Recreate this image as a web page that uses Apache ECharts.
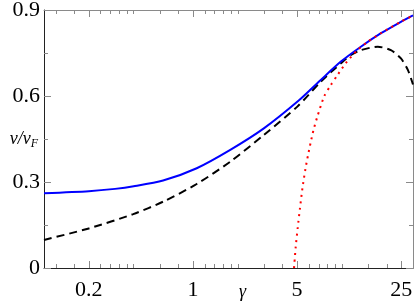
<!DOCTYPE html>
<html>
<head>
<meta charset="utf-8">
<script src="https://cdn.jsdelivr.net/npm/echarts@6/dist/echarts.min.js"></script>
<style>
html,body{margin:0;padding:0;background:#fff;}
#c{width:415px;height:304px;}
</style>
</head>
<body>
<div id="c"></div>
<script>
// ---- data ----
var blueX = [0.1, 0.2, 0.3, 0.4, 0.63, 1.06, 1.78, 2.99, 5.15, 7.21, 9.84, 13.4, 18.3, 24.9, 30];
var blueY = [0.261, 0.268, 0.276, 0.285, 0.305, 0.348, 0.412, 0.487, 0.585, 0.656, 0.720, 0.772, 0.819, 0.859, 0.881];

var dashX = [0.1, 0.2, 0.397, 0.634, 1.06, 1.78, 2.99, 5.02, 7.21, 9.84, 11.5, 13.4, 17.4, 21.3, 24.9, 27.7, 30];
var dashY = [0.098, 0.138, 0.188, 0.232, 0.293, 0.371, 0.464, 0.563, 0.650, 0.714, 0.743, 0.760, 0.772, 0.760, 0.731, 0.691, 0.640];

var redX = [4.77, 4.89, 5.05, 5.23, 5.43, 5.69, 5.92, 6.17, 6.44, 6.84, 7.59, 8.42, 9.34, 10.6, 12.7, 15, 18.3, 24.9, 30];
var redY = [0, 0.071, 0.141, 0.209, 0.278, 0.346, 0.393, 0.438, 0.481, 0.528, 0.598, 0.638, 0.673, 0.714, 0.760, 0.790, 0.819, 0.859, 0.881];

var xMajorTicks = [0.2, 1, 5, 25];
var xTickLabels = ['0.2', '1', '5', '25'];
var xMinorTicks = [0.12, 0.16, 0.24, 0.28, 0.32, 0.36, 0.4, 0.6, 0.8,
                   1.2, 1.4, 1.6, 1.8, 2, 3, 4,
                   6, 7, 8, 9, 10, 15, 20];
var yTicks = [0, 0.3, 0.6, 0.9];
var yTickLabels = ['0', '0.3', '0.6', '0.9'];

function pairs(xs, ys) { return xs.map(function (x, i) { return [x, ys[i]]; }); }

var serif = 'Liberation Serif';
var labelFont = 'normal 400 22px "Liberation Serif", "DejaVu Serif", serif';
var chart = echarts.init(document.getElementById('c'), null, {renderer: 'canvas'});

function xAxisDef(pos, ticks, len, showLine, lineColor) {
  return {
    type: 'log', logBase: 10, min: 0.1, max: 30, position: pos,
    axisLine: {show: showLine, onZero: false, lineStyle: {color: lineColor, width: 1}},
    axisTick: {show: true, inside: true, length: len, customValues: ticks,
               lineStyle: {color: '#8a8a8a', width: 1}},
    axisLabel: {show: false},
    splitLine: {show: false}, minorTick: {show: false}, minorSplitLine: {show: false}
  };
}

function yAxisDef(pos, withName, lineColor) {
  return {
    type: 'value', min: 0, max: 0.9, interval: 0.3, position: pos,
    axisLine: {show: true, onZero: false, lineStyle: {color: lineColor, width: 1}},
    axisTick: {show: true, inside: true, length: 7, lineStyle: {color: '#8a8a8a', width: 1}},
    minorTick: {show: true, splitNumber: 2, length: 4, lineStyle: {color: '#8a8a8a', width: 1}},
    axisLabel: {show: false},
    splitLine: {show: false},
    name: withName ? '{a|v/v}{b|F}' : '',
    nameLocation: 'middle', nameRotate: 0, nameGap: 6, nameMoveOverlap: false,
    nameTextStyle: {
      rich: {
        a: {fontFamily: serif, fontStyle: 'italic', fontSize: 18, color: '#000'},
        b: {fontFamily: serif, fontStyle: 'italic', fontSize: 12, color: '#000', verticalAlign: 'bottom', padding: [9, 0, 0, 0]}
      }
    }
  };
}

chart.setOption({
  animation: false,
  backgroundColor: '#fff',
  grid: {left: 44, right: 2, top: 10, bottom: 36, containLabel: false, outerBoundsMode: 'none'},
  xAxis: [
    xAxisDef('bottom', xMajorTicks, 7, true, '#222'),
    xAxisDef('bottom', xMinorTicks, 4, false, '#222'),
    xAxisDef('top', xMajorTicks, 7, true, '#8a8a8a'),
    xAxisDef('top', xMinorTicks, 4, false, '#8a8a8a')
  ],
  yAxis: [
    yAxisDef('left', true, '#222'),
    yAxisDef('right', false, '#8a8a8a')
  ],
  series: [
    {type: 'line', xAxisIndex: 0, yAxisIndex: 0, data: pairs(blueX, blueY), showSymbol: false,
     smooth: 0.25, lineStyle: {color: '#0000ff', width: 2}, z: 3},
    {type: 'line', xAxisIndex: 0, yAxisIndex: 0, data: pairs(dashX, dashY), showSymbol: false,
     smooth: 0.25, lineStyle: {color: '#000', width: 2, type: [8, 5]}, z: 2},
    {type: 'line', xAxisIndex: 0, yAxisIndex: 0, data: pairs(redX, redY), showSymbol: false,
     smooth: 0.25, lineStyle: {color: '#ff0000', width: 2, type: [2, 4.5]}, z: 4}
  ]
});

// tick labels placed through the axes' own scales
var gridRect = chart.getModel().getComponent('grid', 0).coordinateSystem.getRect();
var labels = [];
xMajorTicks.forEach(function (v, i) {
  var px = chart.convertToPixel({xAxisIndex: 0}, v);
  labels.push({type: 'text', x: px, y: gridRect.y + gridRect.height + 22, silent: true,
    style: {text: xTickLabels[i], font: labelFont, fill: '#000', align: 'center', verticalAlign: 'middle',
            textAlign: 'center', textVerticalAlign: 'middle'}});
});
yTicks.forEach(function (v, i) {
  var py = chart.convertToPixel({yAxisIndex: 0}, v);
  labels.push({type: 'text', x: gridRect.x - 4, y: py, silent: true,
    style: {text: yTickLabels[i], font: labelFont, fill: '#000', align: 'right', verticalAlign: 'middle',
            textAlign: 'right', textVerticalAlign: 'middle'}});
});
labels.push({type: 'text', x: 239, y: 283, silent: true,
  style: {text: 'γ', font: 'italic 18px "Liberation Serif"', fill: '#000'}});
chart.setOption({graphic: labels});
</script>
</body>
</html>
